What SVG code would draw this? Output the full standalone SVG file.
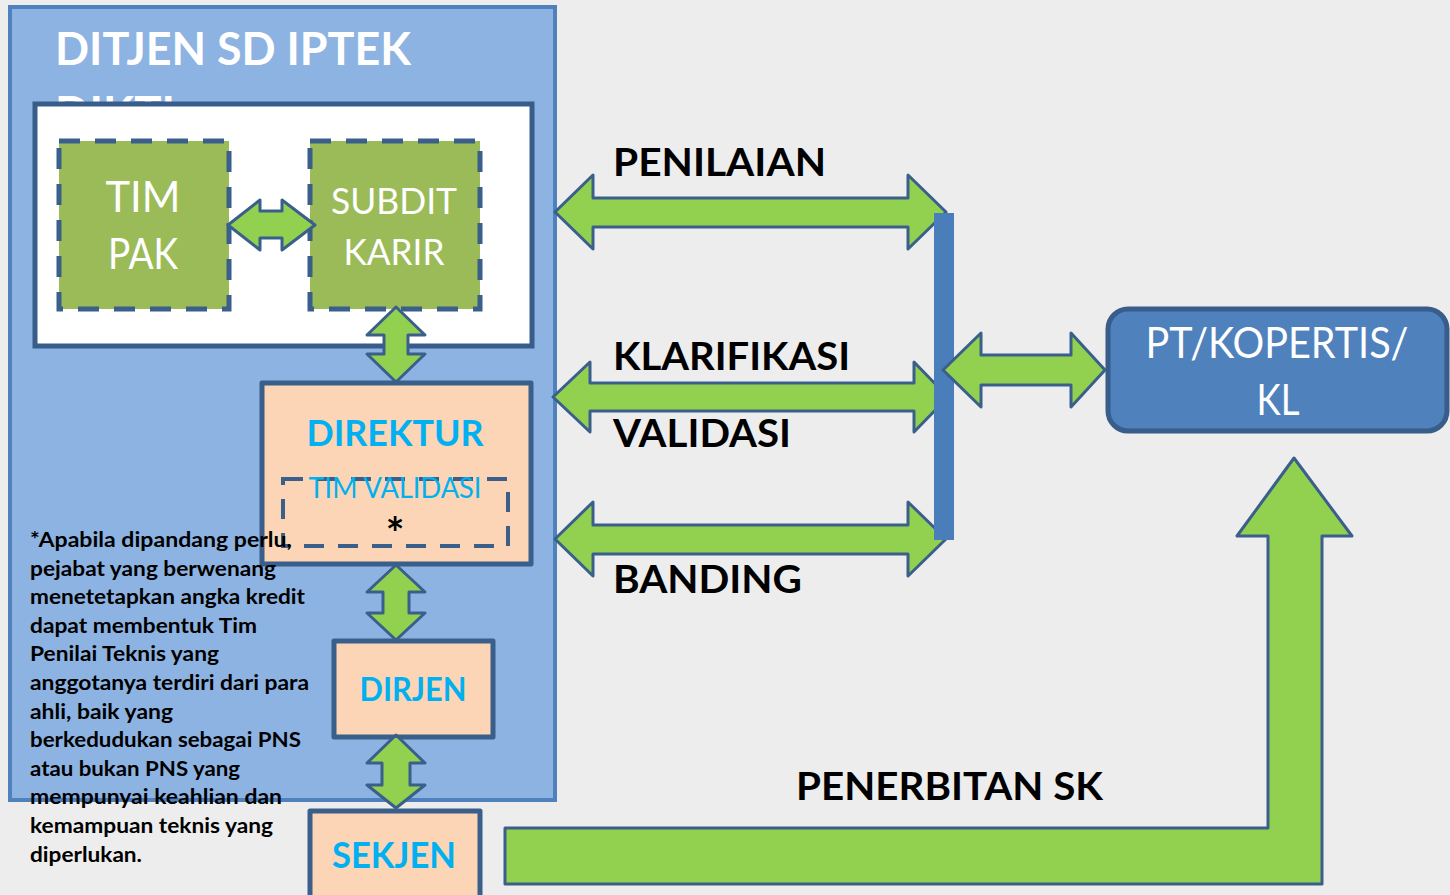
<svg xmlns="http://www.w3.org/2000/svg" width="1450" height="895" viewBox="0 0 1450 895">
<style>
.t{font-family:Lato,"Liberation Sans",sans-serif}
.b{font-weight:bold}
.w{fill:#FFFFFF}
.k{fill:#000000}
.c{fill:#00B0F0}
.arr{fill:#92D050;stroke:#3A5F8B;stroke-width:3;stroke-linejoin:round}
.node{stroke:#3A5F8B;stroke-width:5;stroke-linejoin:round}
.dash{fill:#9BBB59;stroke:#3A5F8B;stroke-width:5;stroke-dasharray:21 15}
</style>
<rect width="1450" height="895" fill="#EDEDED"/>
<g id="ditjen">
<rect x="10" y="7" width="545" height="793" fill="#8DB3E2" stroke="#4F81BD" stroke-width="4"/>
<text class="t b w" x="55" y="65" font-size="46" textLength="356" lengthAdjust="spacingAndGlyphs">DITJEN SD IPTEK</text>
<text class="t b w" x="55" y="129" font-size="46" textLength="120" lengthAdjust="spacingAndGlyphs">DIKTI</text>
</g>
<g id="inner">
<rect x="35" y="104" width="497" height="242" fill="#FFFFFF" stroke="#385D8A" stroke-width="5"/>
</g>
<g id="timpak">
<rect x="59" y="141" width="170" height="168" class="dash"/>
<text class="t w" x="143" y="212" font-size="42" text-anchor="middle" textLength="75" lengthAdjust="spacingAndGlyphs">TIM</text>
<text class="t w" x="143" y="269" font-size="42" text-anchor="middle" textLength="70" lengthAdjust="spacingAndGlyphs">PAK</text>
</g>
<g id="subdit">
<rect x="310" y="141" width="170" height="168" class="dash"/>
<text class="t w" x="394" y="214" font-size="36" text-anchor="middle" textLength="126" lengthAdjust="spacingAndGlyphs">SUBDIT</text>
<text class="t w" x="394" y="265" font-size="36" text-anchor="middle" textLength="101" lengthAdjust="spacingAndGlyphs">KARIR</text>
</g>
<g id="direktur">
<rect x="262" y="383" width="269" height="181" fill="#FBD5B5" class="node"/>
<text class="t b c" x="395" y="446" font-size="37" text-anchor="middle" textLength="177" lengthAdjust="spacingAndGlyphs">DIREKTUR</text>
<rect x="283" y="479" width="225" height="67" fill="none" stroke="#3A5F8B" stroke-width="4" stroke-dasharray="20 14"/>
<text class="t c" x="395" y="498" font-size="28" text-anchor="middle" textLength="173" lengthAdjust="spacingAndGlyphs">TIM VALIDASI</text>
<text class="t b k" x="395" y="549" font-size="44" text-anchor="middle">*</text>
</g>
<g id="dirjen">
<rect x="334" y="641" width="159" height="96" fill="#FBD5B5" class="node"/>
<text class="t b c" x="413" y="701" font-size="33" text-anchor="middle" textLength="107" lengthAdjust="spacingAndGlyphs">DIRJEN</text>
</g>
<g id="sekjen">
<rect x="310" y="811" width="170" height="100" fill="#FBD5B5" class="node"/>
<text class="t b c" x="394" y="868" font-size="36" text-anchor="middle" textLength="124" lengthAdjust="spacingAndGlyphs">SEKJEN</text>
</g>
<g id="pt">
<rect x="1108" y="309" width="339" height="122" rx="20" fill="#4F81BD" stroke="#385D8A" stroke-width="5"/>
<text class="t w" x="1277" y="358" font-size="42" text-anchor="middle" textLength="263" lengthAdjust="spacingAndGlyphs">PT/KOPERTIS/</text>
<text class="t w" x="1278" y="415" font-size="42" text-anchor="middle" textLength="43" lengthAdjust="spacingAndGlyphs">KL</text>
</g>
<g id="note">
<text class="t b k" font-size="21">
<tspan x="30" y="547" textLength="262" lengthAdjust="spacingAndGlyphs">*Apabila dipandang perlu,</tspan>
<tspan x="30" y="575.6" textLength="246" lengthAdjust="spacingAndGlyphs">pejabat yang berwenang</tspan>
<tspan x="30" y="604.2" textLength="275" lengthAdjust="spacingAndGlyphs">menetetapkan angka kredit</tspan>
<tspan x="30" y="632.8" textLength="227" lengthAdjust="spacingAndGlyphs">dapat membentuk Tim</tspan>
<tspan x="30" y="661.4" textLength="189" lengthAdjust="spacingAndGlyphs">Penilai Teknis yang</tspan>
<tspan x="30" y="690" textLength="279" lengthAdjust="spacingAndGlyphs">anggotanya terdiri dari para</tspan>
<tspan x="30" y="718.6" textLength="143" lengthAdjust="spacingAndGlyphs">ahli, baik yang</tspan>
<tspan x="30" y="747.2" textLength="271" lengthAdjust="spacingAndGlyphs">berkedudukan sebagai PNS</tspan>
<tspan x="30" y="775.8" textLength="210" lengthAdjust="spacingAndGlyphs">atau bukan PNS yang</tspan>
<tspan x="30" y="804.4" textLength="252" lengthAdjust="spacingAndGlyphs">mempunyai keahlian dan</tspan>
<tspan x="30" y="833" textLength="243" lengthAdjust="spacingAndGlyphs">kemampuan teknis yang</tspan>
<tspan x="30" y="861.6" textLength="112" lengthAdjust="spacingAndGlyphs">diperlukan.</tspan>
</text>
</g>
<g id="connectors">
<polygon class="arr" points="228,225 260,200 260,211 282,211 282,200 315,225 282,250 282,238 260,238 260,250"/>
<polygon class="arr" points="396,307 425,335 408,335 408,354 425,354 396,382 367,354 384,354 384,335 367,335"/>
<polygon class="arr" points="396,565 425,592 409,592 409,613 425,613 396,640 367,613 383,613 383,592 367,592"/>
<polygon class="arr" points="396,735 425,763 410,763 410,785 425,785 396,808 367,785 382,785 382,763 367,763"/>
<polygon class="arr" points="555,212 593,175 593,198 908,198 908,175 946,212 908,249 908,227 593,227 593,249"/>
<polygon class="arr" points="553,397 590,362 590,383 914,383 914,362 948,397 914,432 914,411 590,411 590,432"/>
<polygon class="arr" points="555,539 593,502 593,525 908,525 908,502 946,539 908,576 908,554 593,554 593,576"/>
<rect x="934" y="213" width="20" height="327" fill="#4A7EBB"/>
<polygon class="arr" points="943,370 981,333 981,355 1071,355 1071,333 1105,370 1071,407 1071,385 981,385 981,407"/>
<polygon class="arr" points="505,828 1268,828 1268,536 1237,536 1294,458 1352,536 1322,536 1322,884 505,884"/>
<text class="t b k" x="613" y="176" font-size="38" textLength="213" lengthAdjust="spacingAndGlyphs">PENILAIAN</text>
<text class="t b k" x="613" y="370" font-size="38" textLength="237" lengthAdjust="spacingAndGlyphs">KLARIFIKASI</text>
<text class="t b k" x="613" y="447" font-size="38" textLength="178" lengthAdjust="spacingAndGlyphs">VALIDASI</text>
<text class="t b k" x="613" y="593" font-size="38" textLength="189" lengthAdjust="spacingAndGlyphs">BANDING</text>
<text class="t b k" x="796" y="800" font-size="38" textLength="307" lengthAdjust="spacingAndGlyphs">PENERBITAN SK</text>
</g>
</svg>
